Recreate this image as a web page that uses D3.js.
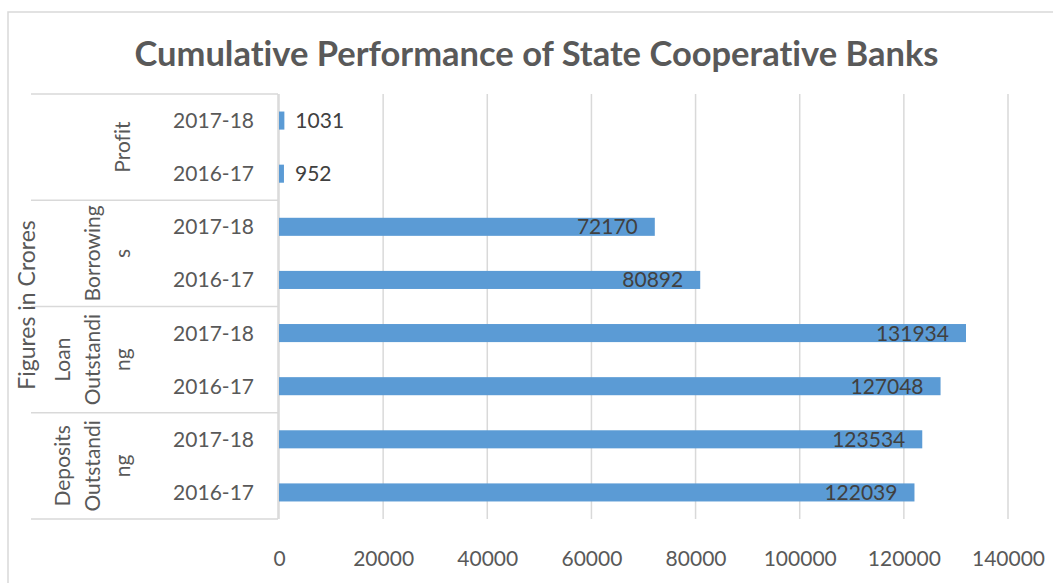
<!DOCTYPE html>
<html>
<head>
<meta charset="utf-8">
<script src="https://cdn.jsdelivr.net/npm/d3@7"></script>
<style>
  html, body { margin: 0; padding: 0; background: #ffffff; }
  svg { display: block; }
  text { font-family: Lato, "Open Sans", sans-serif; font-variant-ligatures: none; }
</style>
</head>
<body>
<svg id="chart" width="1053" height="583"></svg>
<script>
// Cumulative performance of State Cooperative Banks (figures in crores)
const groups = ["Deposits Outstanding", "Loan Outstanding", "Borrowings", "Profit"];
const groupLabelLines = [
  ["Deposits", "Outstandi", "ng"],
  ["Loan", "Outstandi", "ng"],
  ["Borrowing", "s"],
  ["Profit"]
];
const years = ["2016-17", "2017-18"];
const deposits = [122039, 123534];
const loans = [127048, 131934];
const borrowings = [80892, 72170];
const profit = [952, 1031];
const xTicks = [0, 20000, 40000, 60000, 80000, 100000, 120000, 140000];

const seriesByGroup = [deposits, loans, borrowings, profit];

// Flatten to rows, top row first (Profit 2017-18 ... Deposits 2016-17)
const rows = [];
for (let g = groups.length - 1; g >= 0; g--) {
  for (let yi = years.length - 1; yi >= 0; yi--) {
    rows.push({ key: groups[g] + "|" + years[yi], group: g, year: years[yi], value: seriesByGroup[g][yi] });
  }
}

const svg = d3.select("#chart");

const plotTop = 94, plotBottom = 519;
const x = d3.scaleLinear().domain([0, 140000]).range([279, 1008]);
const y = d3.scaleBand()
  .domain(rows.map(d => d.key))
  .range([plotTop, plotBottom])
  .paddingInner(0.66)
  .paddingOuter(0.33);

const gridColor = "#d9d9d9";
const textGray = "#595959";

// Chart frame
svg.append("rect")
  .attr("x", 8).attr("y", 12)
  .attr("width", 1070).attr("height", 600)
  .attr("fill", "none")
  .attr("stroke", gridColor)
  .attr("stroke-width", 1.5);

// Title
svg.append("text")
  .attr("x", 536.5).attr("y", 66)
  .attr("text-anchor", "middle")
  .attr("font-size", 34.5)
  .attr("font-weight", "bold")
  .attr("fill", textGray)
  .text("Cumulative Performance of State Cooperative Banks");

// Vertical gridlines
svg.append("g")
  .selectAll("line")
  .data(xTicks)
  .join("line")
  .attr("x1", d => x(d)).attr("x2", d => x(d))
  .attr("y1", plotTop).attr("y2", plotBottom)
  .attr("stroke", gridColor)
  .attr("stroke-width", 1.5);

// X axis tick labels
const xAxis = d3.axisBottom(x).tickValues(xTicks).tickSize(0).tickPadding(0).tickFormat(d3.format("d"));
const xg = svg.append("g")
  .attr("transform", `translate(0, 551)`)
  .call(xAxis);
xg.select(".domain").remove();
xg.selectAll("text")
  .attr("font-family", "Lato, 'Open Sans', sans-serif")
  .attr("font-size", 21)
  .attr("fill", textGray)
  .attr("dy", "0.72em");

// Category separators (multi-level axis): one line above the top group and one below each group
const catLeft = 31, catRight = 278;
const sepYs = [plotTop].concat(groups.map(gname => {
  const k = gname + "|" + years[0]; // lower row of each group
  return y(k) + y.bandwidth() / 2 + y.step() / 2;
}));

svg.append("g")
  .selectAll("line")
  .data(sepYs)
  .join("line")
  .attr("x1", catLeft).attr("x2", catRight)
  .attr("y1", d => d).attr("y2", d => d)
  .attr("stroke", gridColor)
  .attr("stroke-width", 1.5);

svg.append("line")
  .attr("x1", catRight).attr("x2", catRight)
  .attr("y1", plotTop).attr("y2", plotBottom)
  .attr("stroke", gridColor)
  .attr("stroke-width", 1.5);

// Bars
svg.append("g")
  .selectAll("rect")
  .data(rows)
  .join("rect")
  .attr("x", x(0))
  .attr("y", d => y(d.key))
  .attr("width", d => x(d.value) - x(0))
  .attr("height", y.bandwidth())
  .attr("fill", "#5b9bd5");

// Data labels: inside end when the label fits, otherwise just past the bar
svg.append("g")
  .selectAll("text")
  .data(rows)
  .join("text")
  .attr("font-size", 21)
  .attr("fill", "#404040")
  .attr("y", d => y(d.key) + y.bandwidth() / 2)
  .attr("dy", "0.36em")
  .each(function (d) {
    const t = d3.select(this).text(d.value);
    const barW = x(d.value) - x(0);
    if (barW > 120) {
      t.attr("x", x(d.value) - 17).attr("text-anchor", "end");
    } else {
      t.attr("x", x(d.value) + 11).attr("text-anchor", "start");
    }
  });

// Year labels
svg.append("g")
  .selectAll("text")
  .data(rows)
  .join("text")
  .attr("x", 254)
  .attr("y", d => y(d.key) + y.bandwidth() / 2)
  .attr("dy", "0.36em")
  .attr("text-anchor", "end")
  .attr("font-size", 21)
  .attr("fill", textGray)
  .text(d => d.year);

// Group labels, rotated and wrapped
const groupG = svg.append("g");
groups.forEach((gname, g) => {
  const keys = years.map(yr => gname + "|" + yr);
  const ys = keys.map(k => y(k));
  const center = (d3.min(ys) + d3.max(ys) + y.bandwidth()) / 2;
  const lines = groupLabelLines[g];
  lines.forEach((line, i) => {
    const cx = 122 - (lines.length - 1 - i) * 30;
    groupG.append("text")
      .attr("transform", `translate(${cx}, ${center}) rotate(-90)`)
      .attr("text-anchor", "middle")
      .attr("dy", "0.36em")
      .attr("font-size", 21)
      .attr("fill", textGray)
      .text(line);
  });
});

// Axis title
svg.append("text")
  .attr("transform", `translate(35, 305) rotate(-90)`)
  .attr("text-anchor", "middle")
  .attr("font-size", 23)
  .attr("fill", textGray)
  .text("Figures in Crores");
</script>
</body>
</html>
